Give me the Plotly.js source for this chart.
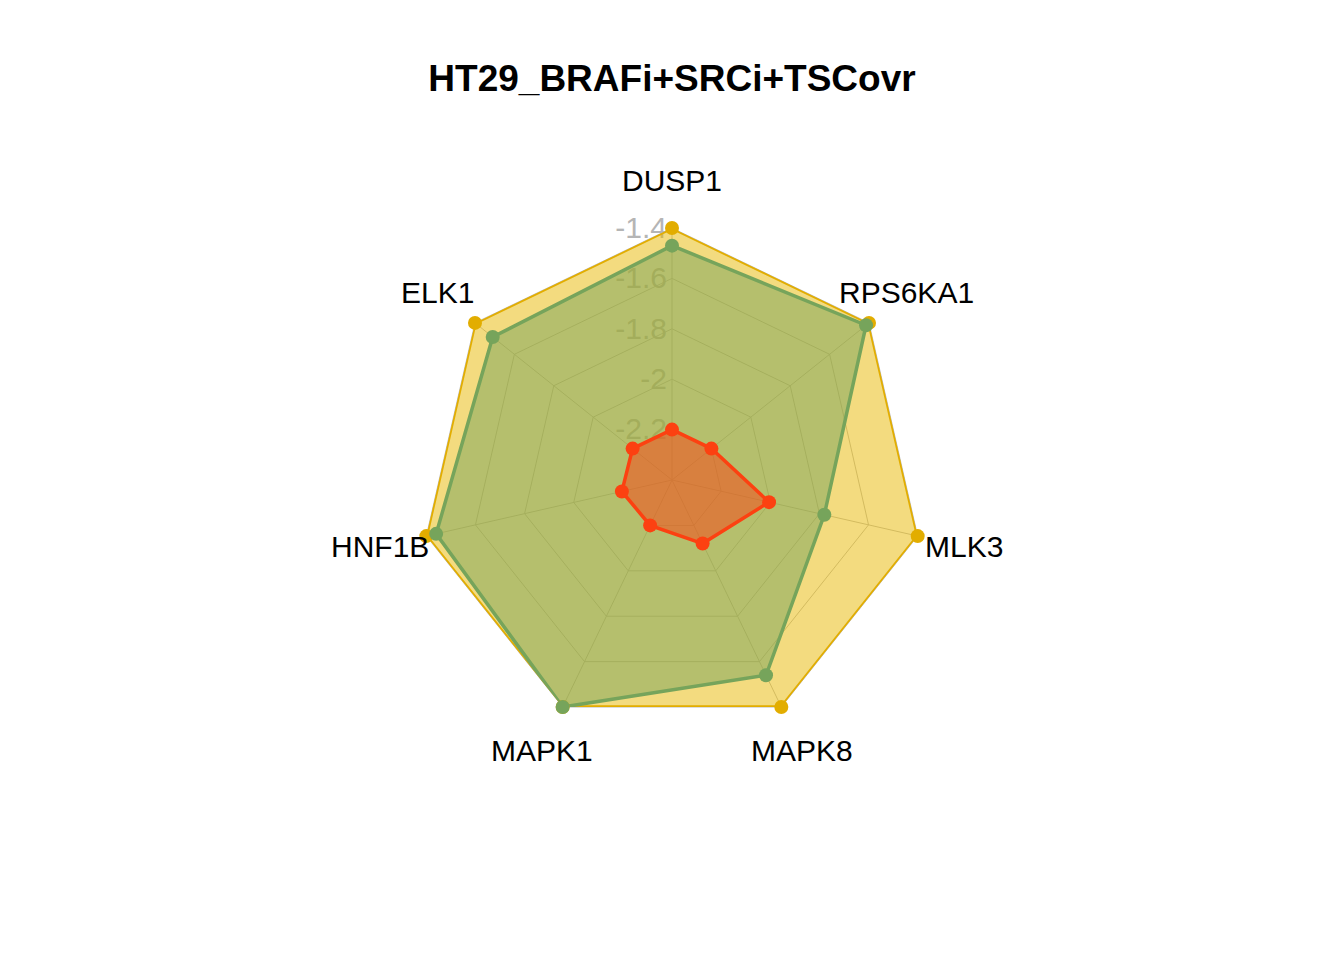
<!DOCTYPE html>
<html>
<head>
<meta charset="utf-8">
<script src="https://cdn.plot.ly/plotly-3.0.1.min.js"></script>
<style>html,body{margin:0;padding:0;background:#fff;}#chart{width:1344px;height:960px;}</style>
</head>
<body>
<div id="chart"></div>
<script>
const categories = ["DUSP1", "ELK1", "HNF1B", "MAPK1", "MAPK8", "MLK3", "RPS6KA1"];
const seriesYellow = [-1.40, -1.40, -1.40, -1.40, -1.40, -1.40, -1.40];
const seriesGreen  = [-1.47, -1.49, -1.44, -1.40, -1.54, -1.78, -1.415];
const seriesRed    = [-2.20, -2.20, -2.196, -2.20, -2.12, -2.005, -2.20];
const tickValues = [-2.2, -2.0, -1.8, -1.6, -1.4];
const tickLabels = ["-2.2", "-2", "-1.8", "-1.6", "-1.4"];
const radialRange = [-2.4, -1.4];
const chartTitle = "HT29_BRAFi+SRCi+TSCovr";

const W = 1344, H = 960, R = 252, CX = 672, CY = 480, LABEL_R = 300;
const FONT = "Liberation Sans, Arial, sans-serif";

function closed(arr) { return arr.concat([arr[0]]); }
function polyTrace(vals, line, fill, name) {
  return {
    type: "scatterpolar", subplot: "polar",
    r: closed(vals), theta: closed(categories),
    mode: "lines", name: name,
    fill: "toself", fillcolor: fill,
    line: {color: line, width: 3.5},
    cliponaxis: false,
    showlegend: false, hoverinfo: "skip"
  };
}
function pointTrace(vals, color, name) {
  return {
    type: "scatterpolar", subplot: "polar2",
    r: vals, theta: categories,
    mode: "markers", name: name,
    marker: {color: color, size: 14, line: {width: 0}},
    cliponaxis: false, showlegend: false
  };
}

const data = [
  polyTrace(seriesYellow, "#E2AD00", "rgba(231,184,0,0.5)", "Series 1"),
  polyTrace(seriesGreen, "#76A45B", "rgba(119,163,92,0.5)", "Series 2"),
  polyTrace(seriesRed, "#FC4111", "rgba(252,65,17,0.5)", "Series 3"),
  pointTrace(seriesYellow, "#E2AD00", "Series 1"),
  pointTrace(seriesGreen, "#76A45B", "Series 2"),
  pointTrace(seriesRed, "#FC4111", "Series 3")
];

const n = categories.length;
const annotations = categories.map((c, i) => {
  const a = (90 + i * 360 / n) * Math.PI / 180;
  return {
    text: c, showarrow: false, xref: "paper", yref: "paper",
    x: 0.5 + LABEL_R * Math.cos(a) / W,
    y: 0.5 + LABEL_R * Math.sin(a) / H,
    xanchor: "center", yanchor: "middle",
    font: {family: FONT, size: 30, color: "#000"}
  };
});

const domain = {x: [(CX - R) / W, (CX + R) / W], y: [(H - CY - R) / H, (H - CY + R) / H]};

const layout = {
  width: W, height: H,
  margin: {l: 0, r: 0, t: 0, b: 0},
  paper_bgcolor: "#fff",
  title: {
    text: "<b>" + chartTitle + "</b>",
    x: 0.5, xanchor: "center", y: 1 - 78 / H, yanchor: "middle",
    font: {family: FONT, size: 37, color: "#000"}
  },
  polar: {
    domain: domain,
    bgcolor: "rgba(0,0,0,0)",
    gridshape: "linear",
    angularaxis: {
      type: "category", categoryarray: categories,
      direction: "counterclockwise", rotation: 90,
      showticklabels: false, ticks: "",
      showline: true, linecolor: "#BEBEBE", linewidth: 1,
      gridcolor: "#BEBEBE", gridwidth: 1, layer: "below traces"
    },
    radialaxis: {
      range: radialRange, angle: 90, side: "counterclockwise", tickangle: 90,
      tickvals: tickValues, ticktext: tickLabels,
      tickfont: {family: FONT, size: 30, color: "#B5B5B5"},
      showline: false, ticks: "",
      gridcolor: "#BEBEBE", gridwidth: 1, layer: "below traces"
    }
  },
  polar2: {
    domain: domain,
    bgcolor: "rgba(0,0,0,0)",
    gridshape: "circular",
    angularaxis: {
      type: "category", categoryarray: categories,
      direction: "counterclockwise", rotation: 90,
      showticklabels: false, ticks: "", showline: false, showgrid: false
    },
    radialaxis: {
      range: radialRange, angle: 90,
      showticklabels: false, ticks: "", showline: false, showgrid: false
    }
  },
  annotations: annotations
};

Plotly.newPlot("chart", data, layout, {displayModeBar: false});
</script>
</body>
</html>
